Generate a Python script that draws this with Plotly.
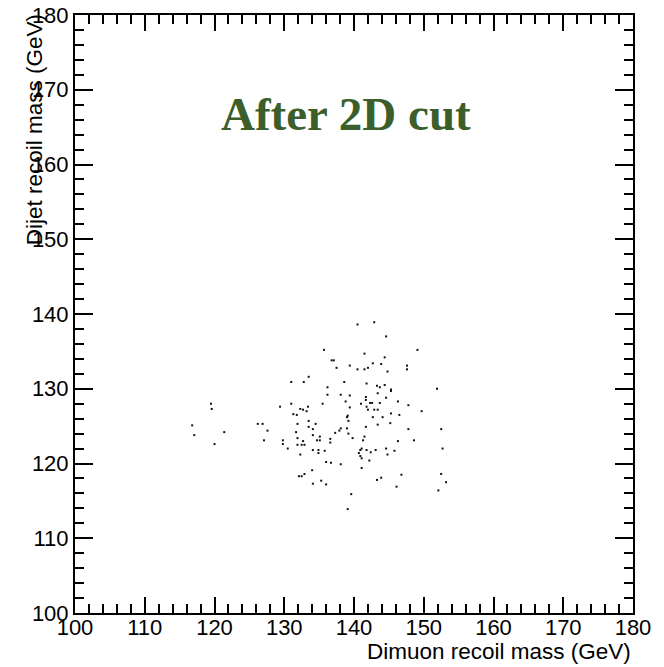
import plotly.graph_objects as go

# Dimuon recoil mass (GeV)
dimuon_recoil = [
    133.5, 131.0, 132.8,
    140.5, 142.9, 144.6, 135.7, 141.5, 149.1, 144.4, 136.8, 137.1, 142.7, 139.4,
    143.9, 147.6, 137.5, 140.5, 141.5, 142.0, 147.6, 144.8, 138.6, 141.8, 136.2,
    143.3, 143.7, 144.4, 145.3, 145.3, 151.9, 136.2, 138.1, 139.4, 143.4, 141.7,
    144.6, 141.7,
    135.5, 138.8, 139.4, 141.0, 141.8, 142.3, 142.6, 143.7, 146.3, 147.8, 142.0,
    142.9, 143.4, 145.3, 146.5, 149.7, 139.1, 139.0, 139.2, 142.7, 144.1, 143.4,
    145.2, 141.7, 138.1, 139.0, 137.9, 137.3, 147.8, 152.5, 139.2, 135.1, 141.5,
    139.8, 136.6, 141.3, 135.1, 146.3, 148.6, 136.6, 152.7, 141.1, 140.9, 141.8,
    143.1, 144.6, 145.8, 135.8, 142.4, 140.7, 144.8, 140.9, 141.1, 142.2, 136.0,
    136.7, 138.1, 141.1, 146.8, 152.5, 143.9, 143.3, 135.3, 153.2, 136.0, 146.1,
    152.1, 139.6, 139.1,
    119.5, 119.6, 129.4, 131.0, 133.4, 132.3, 132.7, 133.2, 131.3, 131.8, 116.8,
    126.2, 126.9, 131.9, 133.5, 134.5, 133.5, 117.1, 121.4, 127.6, 131.7, 134.1,
    134.1, 120.0, 127.1, 129.8, 129.8, 131.9, 132.7, 134.7, 131.9, 132.5, 132.9,
    130.5, 134.1, 134.9, 134.9, 132.3, 134.0, 132.9, 132.1, 132.5, 134.1,
]

# Dijet recoil mass (GeV)
dijet_recoil = [
    131.6, 130.9, 130.9,
    138.6, 138.9, 137.0, 135.2, 134.7, 135.2, 134.2, 133.8, 133.8, 133.4, 133.1,
    133.3, 133.1, 132.8, 132.6, 132.6, 132.8, 132.6, 132.3, 130.9, 130.7, 130.2,
    130.4, 130.2, 130.5, 129.9, 129.7, 130.0, 129.2, 129.2, 129.1, 129.4, 128.9,
    128.8, 128.5,
    128.0, 128.3, 127.5, 128.0, 127.6, 128.1, 128.1, 128.1, 128.3, 127.8, 127.2,
    127.2, 127.2, 126.7, 126.5, 127.0, 126.4, 126.2, 125.7, 126.2, 126.2, 125.2,
    125.4, 124.9, 124.7, 124.7, 124.4, 124.1, 124.6, 124.6, 124.0, 123.6, 123.6,
    123.4, 123.3, 123.1, 123.1, 123.0, 123.1, 122.8, 122.0, 122.0, 121.8, 121.8,
    121.8, 122.0, 121.7, 121.7, 121.5, 121.4, 121.2, 121.0, 120.7, 120.4, 120.2,
    120.1, 119.9, 119.4, 118.5, 118.6, 118.1, 117.8, 117.7, 117.5, 117.2, 116.9,
    116.4, 115.9, 113.9,
    128.0, 127.3, 127.6, 128.0, 127.6, 127.3, 127.2, 127.0, 126.6, 126.5, 125.1,
    125.3, 125.3, 125.3, 125.7, 125.3, 124.9, 123.8, 124.2, 124.4, 124.2, 124.6,
    123.8, 122.6, 123.1, 123.1, 122.6, 123.4, 123.0, 123.1, 122.5, 122.5, 122.5,
    122.0, 121.8, 121.8, 121.4, 121.2, 119.1, 118.6, 118.3, 118.3, 117.3,
]

title_text = "After 2D cut"
x_title = "Dimuon recoil mass (GeV)"
y_title = "Dijet recoil mass (GeV)"
tick_vals = [100, 110, 120, 130, 140, 150, 160, 170, 180]

fig = go.Figure()
fig.add_trace(go.Scatter(
    x=dimuon_recoil, y=dijet_recoil, mode="markers",
    marker=dict(symbol="square", size=2, color="#111111", line=dict(width=0)),
    showlegend=False, hoverinfo="x+y",
))

axis_common = dict(
    showgrid=False, zeroline=False, automargin=False,
    showline=True, linecolor="black", linewidth=2, mirror="allticks",
    ticks="inside", tickcolor="black", tickwidth=1.5,
    tickvals=tick_vals, ticktext=[str(v) for v in tick_vals],
    tickfont=dict(family="Liberation Sans, Arial, sans-serif", size=22, color="black"),
    minor=dict(dtick=2, tick0=100, ticks="inside", ticklen=9, tickcolor="black", tickwidth=1.5, showgrid=False),
)

fig.update_layout(
    width=664, height=667,
    margin=dict(l=75, r=31, t=15, b=54),
    paper_bgcolor="white", plot_bgcolor="white",
    xaxis=dict(range=[100, 180], ticklen=16, ticklabelstandoff=-6, **axis_common),
    yaxis=dict(range=[100, 180], ticklen=18, ticklabelstandoff=0, **axis_common),
    annotations=[
        dict(text="<b>" + title_text + "</b>", xref="x", yref="y", x=138.9, y=166.8,
             showarrow=False, xanchor="center", yanchor="middle",
             font=dict(family="Liberation Serif, Times New Roman, serif", size=47, color="#3b5e2b")),
        dict(text=x_title, xref="paper", yref="paper", x=1.0, y=-0.064,
             showarrow=False, xanchor="right", yanchor="middle",
             font=dict(family="Liberation Sans, Arial, sans-serif", size=22.5, color="black")),
        dict(text=y_title, xref="paper", yref="paper", x=-0.072, y=1.005,
             showarrow=False, xanchor="center", yanchor="top", textangle=-90,
             font=dict(family="Liberation Sans, Arial, sans-serif", size=22.5, color="black")),
    ],
)

fig.write_html("out.html")
